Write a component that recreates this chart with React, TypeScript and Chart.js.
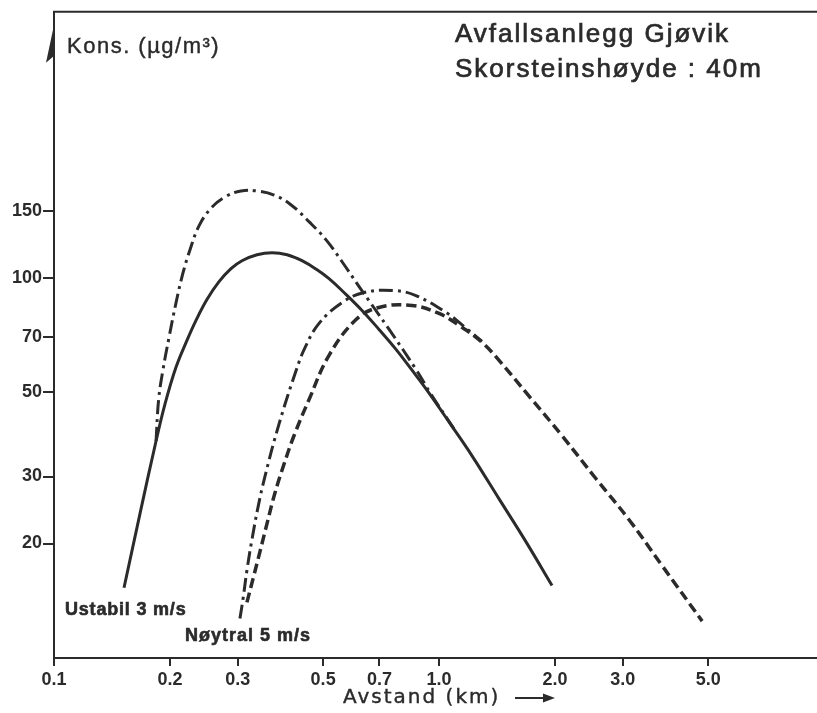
import React, { useEffect, useRef } from "react";
import { Chart, registerables } from "chart.js";

Chart.register(...registerables);

// Axis ticks (log-log axes)
const xTicks = [0.1, 0.2, 0.3, 0.5, 0.7, 1.0, 2.0, 3.0, 5.0];
const yTicks = [20, 30, 50, 70, 100, 150];

// Ustabil 3 m/s — solid curve
const ustabilSolidX = [0.152, 0.1673, 0.1841, 0.1942, 0.2074, 0.2215, 0.2338, 0.2496, 0.2683, 0.2882, 0.3078, 0.3368, 0.3683, 0.4029, 0.4406, 0.4822, 0.518, 0.5666, 0.631, 0.6984, 0.7731, 0.8509, 0.942, 1.0744, 1.2182, 1.4319, 1.6825, 1.9655];
const ustabilSolidY = [15.3, 24.0, 37.2, 46.5, 58.1, 68.4, 77.2, 87.6, 97.6, 105.6, 110.8, 114.9, 116.3, 114.9, 110.8, 104.9, 99.4, 91.4, 82.0, 73.1, 64.8, 57.1, 49.7, 41.0, 34.0, 26.2, 20.2, 15.5];

// Ustabil 3 m/s — dash-dot curve
const ustabilDashDotX = [0.1841, 0.187, 0.192, 0.199, 0.207, 0.216, 0.226, 0.238, 0.256, 0.278, 0.306, 0.337, 0.373, 0.413, 0.46, 0.509, 0.56, 0.62, 0.742, 0.871, 0.953, 1.094];
const ustabilDashDotY = [37.2, 47.9, 57.4, 69.7, 85.0, 102.4, 119.1, 136.8, 152.5, 163.0, 169.0, 169.0, 164.9, 155.3, 140.2, 125.7, 110.1, 94.7, 73.1, 57.4, 49.4, 40.0];

// Nøytral 5 m/s — dash-dot curve
const noytralDashDotX = [0.304, 0.31, 0.317, 0.327, 0.339, 0.353, 0.384, 0.425, 0.449, 0.488, 0.56, 0.639, 0.764, 0.871, 1.043, 1.161, 1.293];
const noytralDashDotY = [12.7, 14.4, 17.0, 20.6, 25.0, 30.0, 41.2, 56.8, 65.6, 75.8, 86.0, 91.4, 92.5, 89.7, 81.0, 74.4, 68.0];

// Nøytral 5 m/s — dashed curve
const noytralDashedX = [0.317, 0.329, 0.343, 0.358, 0.375, 0.396, 0.42, 0.46, 0.518, 0.609, 0.698, 0.851, 1.0, 1.127, 1.293, 1.432, 1.713, 2.087, 2.557, 3.115, 3.795, 4.823];
const noytralDashedY = [14.0, 16.2, 19.1, 22.7, 27.2, 32.4, 38.4, 47.9, 62.5, 77.6, 83.5, 84.5, 80.5, 74.9, 67.6, 60.6, 48.8, 38.4, 29.6, 23.1, 17.5, 12.5];

const INK = "#2b2b2b";

const toPoints = (xs: number[], ys: number[]) => xs.map((x, i) => ({ x, y: ys[i] }));

const decorPlugin = {
  id: "decor",
  afterDraw(chart: any) {
    const { ctx, chartArea } = chart;
    ctx.save();
    ctx.strokeStyle = INK;
    ctx.fillStyle = INK;

    // top frame line
    ctx.lineWidth = 2;
    ctx.beginPath();
    ctx.moveTo(chartArea.left - 1, chartArea.top);
    ctx.lineTo(817, chartArea.top);
    ctx.stroke();

    // arrow on y axis
    const ax = chartArea.left - 1;
    ctx.beginPath();
    ctx.moveTo(ax, chartArea.top + 18);
    ctx.lineTo(ax - 7, chartArea.top + 51);
    ctx.lineTo(ax, chartArea.top + 45);
    ctx.closePath();
    ctx.fill();

    const setSpacing = (v: string) => {
      try { (ctx as any).letterSpacing = v; } catch (e) {}
    };
    const heavyText = (t: string, x: number, y: number, w: number) => {
      ctx.lineWidth = w;
      ctx.fillText(t, x, y);
      ctx.strokeText(t, x, y);
    };

    // y-axis title
    ctx.textBaseline = "alphabetic";
    ctx.textAlign = "left";
    ctx.font = "22px 'Liberation Sans', Arial, sans-serif";
    setSpacing("1.5px");
    heavyText("Kons. (µg/m³)", 67, 53, 0.4);

    // chart title
    ctx.font = "26px 'Liberation Sans', Arial, sans-serif";
    setSpacing("2px");
    heavyText("Avfallsanlegg Gjøvik", 455, 42, 0.7);
    heavyText("Skorsteinshøyde : 40m", 455, 77, 0.7);

    // curve labels
    ctx.font = "bold 18px 'Liberation Sans', Arial, sans-serif";
    ctx.textBaseline = "middle";
    setSpacing("0.8px");
    heavyText("Ustabil 3 m/s", 65, 610, 0.6);
    setSpacing("1px");
    heavyText("Nøytral 5 m/s", 185, 636, 0.6);

    // x-axis title with arrow
    ctx.font = "20px 'DejaVu Sans', sans-serif";
    setSpacing("2px");
    heavyText("Avstand (km)", 343, 698, 0.4);
    setSpacing("0px");
    ctx.lineWidth = 2;
    ctx.beginPath();
    ctx.moveTo(515, 698);
    ctx.lineTo(546, 698);
    ctx.stroke();
    ctx.beginPath();
    ctx.moveTo(555, 698);
    ctx.lineTo(543, 693.5);
    ctx.lineTo(543, 702.5);
    ctx.closePath();
    ctx.fill();

    ctx.restore();
  },
};

export default function App() {
  const ref = useRef<HTMLCanvasElement>(null);

  useEffect(() => {
    const canvas = ref.current;
    if (!canvas) return;
    const tickFont = { family: "'Liberation Sans', Arial, sans-serif", size: 18, weight: "bold" as const };
    const common = { borderColor: INK, pointRadius: 0, fill: false, tension: 0.4 };
    const chart = new Chart(canvas, {
      type: "line",
      data: {
        datasets: [
          { ...common, label: "Ustabil 3 m/s", data: toPoints(ustabilSolidX, ustabilSolidY), borderWidth: 3 },
          { ...common, label: "Ustabil 3 m/s (strek-prikk)", data: toPoints(ustabilDashDotX, ustabilDashDotY), borderWidth: 3, borderDash: [14, 5, 3, 5] },
          { ...common, label: "Nøytral 5 m/s (strek-prikk)", data: toPoints(noytralDashDotX, noytralDashDotY), borderWidth: 3, borderDash: [14, 5, 3, 5] },
          { ...common, label: "Nøytral 5 m/s", data: toPoints(noytralDashedX, noytralDashedY), borderWidth: 3.5, borderDash: [10, 5] },
        ],
      },
      options: {
        responsive: false,
        animation: false,
        events: [],
        layout: { padding: { top: 9, right: 0, bottom: 0, left: 0 } },
        plugins: {
          legend: { display: false },
          tooltip: { enabled: false },
          title: { display: false },
        },
        scales: {
          x: {
            type: "logarithmic",
            min: 0.1,
            max: 9.76,
            afterBuildTicks: (s: any) => {
              s.ticks = xTicks.map((v) => ({ value: v }));
            },
            afterFit: (s: any) => {
              s.height = 55;
            },
            ticks: {
              autoSkip: false,
              maxRotation: 0,
              color: INK,
              font: tickFont,
              padding: 3,
              callback: (v: any) => Number(v).toFixed(1),
            },
            grid: { drawOnChartArea: false, drawTicks: true, tickLength: 8, color: INK, lineWidth: 2 },
            border: { display: true, color: INK, width: 2 },
          },
          y: {
            type: "logarithmic",
            min: 10,
            max: 500,
            afterBuildTicks: (s: any) => {
              s.ticks = yTicks.map((v) => ({ value: v }));
            },
            afterFit: (s: any) => {
              s.width = 54;
            },
            ticks: {
              autoSkip: false,
              color: INK,
              font: tickFont,
              padding: 1,
              callback: (v: any) => String(v),
            },
            grid: { drawOnChartArea: false, drawTicks: true, tickLength: 11, color: INK, lineWidth: 2 },
            border: { display: true, color: INK, width: 2 },
          },
        },
      },
      plugins: [decorPlugin],
    } as any);
    return () => chart.destroy();
  }, []);

  return (
    <div style={{ position: "fixed", left: 0, top: 0, width: 817, height: 713, overflow: "hidden", background: "#fff" }}>
      <canvas ref={ref} width={820} height={713} style={{ display: "block" }} />
    </div>
  );
}
